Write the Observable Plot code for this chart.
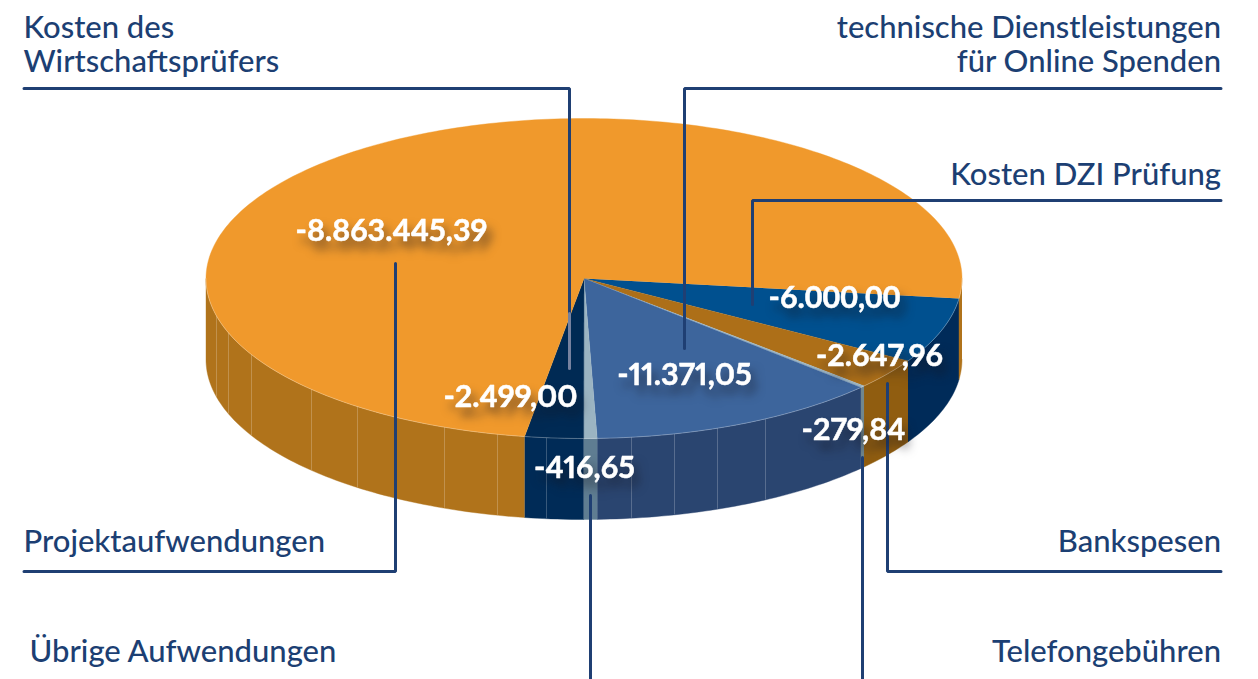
<!DOCTYPE html>
<html lang="de">
<head>
<meta charset="utf-8">
<script src="https://cdn.jsdelivr.net/npm/d3@7"></script>
<script src="https://cdn.jsdelivr.net/npm/@observablehq/plot@0.6"></script>
<style>
html,body{margin:0;padding:0;background:#fff;}
#chart svg{display:block;}
g[fill="#fff"][font-weight="700"] text{filter:drop-shadow(5px 9px 5px rgba(20,20,30,.5));font-variant-numeric:proportional-nums;}
</style>
</head>
<body>
<div id="chart"></div>
<script>
// Slices, clockwise from the first visible edge on the right
const categories = ["Kosten DZI Prüfung","Bankspesen","Telefongebühren","technische Dienstleistungen\nfür Online Spenden","Übrige Aufwendungen","Kosten des\nWirtschaftsprüfers","Projektaufwendungen"];
const amounts = [-6000.00,-2647.96,-279.84,-11371.05,-416.65,-2499.00,-8863445.39];
// drawn sweep of every slice in the picture (the picture is not proportional)
const sweepDeg = [23.8,11.2,0.7,45.1,2.05,9.0,268.15];
const topColors = ["#00508f","#ad6f18","#9bb4c2","#3d659c","#9bb4c2","#002a54","#f0992c"];
const sideColors = ["#002b59","#905d10","#71878f","#2a4570","#5f7d92","#002b57","#b0731b"];
const startDeg = 7.2;

// Layout of the 3-D disc and annotations
const W = 1258, H = 679;
const cx = 583.5, cy = 278, rx = 378, ry = 160, depth = 81;
const ridgeX = [216,228,251,311,357,444,497,546,631,674,717,765];
const labelPos = [
  {x:1220.5,y:174,a:"end"},{x:1220.5,y:541,a:"end"},{x:1220.5,y:651,a:"end"},
  {x:1220.5,y:44,a:"end"},{x:29,y:651,a:"start"},{x:23,y:44,a:"start"},{x:23,y:541,a:"start"}
];
const valuePos = [[391,231],[834,298],[879,356],[853,430],[684,375],[584,468],[510,397]];
const valueOrder = [6,0,1,2,3,4,5];
const leaders = [
  [[1220.5,200],[752,200],[752,304]],
  [[1220.5,571],[887,571],[887,383]],
  [[862,679],[862,457]],
  [[1220.5,88],[684,88],[684,348]],
  [[590,679],[590,495]],
  [[23.5,88],[569,88],[569,313]],
  [[23.5,571],[395,571],[395,263]]
];
const leaderFaded = [[[569,313],[569,368]]];

const fmt = new Intl.NumberFormat("de-DE",{minimumFractionDigits:2,maximumFractionDigits:2});
const rim = (deg,dy=0) => {const t=deg*Math.PI/180; return {x:cx+rx*Math.cos(t),y:cy+ry*Math.sin(t)+dy};};
const arc = (a,b,dy=0) => {const n=Math.max(2,Math.ceil(Math.abs(b-a)));return d3.range(n+1).map(i=>rim(a+(b-a)*i/n,dy));};
const rimYAtX = x => cy+ry*Math.sqrt(1-((x-cx)/rx)**2);

let acc = startDeg;
const slices = amounts.map((v,i)=>{const a=acc,b=acc+sweepDeg[i];acc=b;return {a,b,top:topColors[i],side:sideColors[i]};});

const xy = {x:"x",y:"y"};
const marks = [];
// visible side walls
const sideSpan = (a,b,c) => marks.push(Plot.line([...arc(a,b),...arc(b,a,depth)],{...xy,fill:c,stroke:c,strokeWidth:.4}));
slices.forEach(s=>{
  const a=Math.max(0,s.a), b=Math.min(180,s.b);
  if(a<b) sideSpan(a,b,s.side);
});
sideSpan(0,startDeg,sideColors[6]);
marks.push(Plot.ruleX(ridgeX,{x:d=>d,y1:d=>rimYAtX(d),y2:d=>rimYAtX(d)+depth,stroke:"#fff",strokeOpacity:.22,strokeWidth:1}));
// top faces
slices.forEach(s=>{
  marks.push(Plot.line([{x:cx,y:cy},...arc(s.a,s.b)],{...xy,fill:s.top,stroke:s.top,strokeWidth:.4}));
});
// pale rim highlight
marks.push(Plot.line(arc(0,180),{...xy,stroke:"#fff",strokeOpacity:.35,strokeWidth:.8}));
// leaders
leaders.forEach(l=>marks.push(Plot.line(l,{x:d=>d[0],y:d=>d[1],stroke:"#1f3f73",strokeWidth:3,strokeLinejoin:"miter"})));
leaderFaded.forEach(l=>marks.push(Plot.line(l,{x:d=>d[0],y:d=>d[1],stroke:"#77829f",strokeWidth:3})));
// category labels
const labelRows = categories.map((c,i)=>({c,...labelPos[i]}));
["start","end"].forEach(a=>marks.push(Plot.text(labelRows.filter(d=>d.a===a),{
  x:"x",y:"y",text:"c",textAnchor:a,lineAnchor:"middle",lineHeight:1.097,fontSize:31,fontFamily:"Lato",fontWeight:500,fill:"#1c3f73"
})));
// value labels
const valueRows = valueOrder.map((k,i)=>({t:fmt.format(amounts[k]),x:valuePos[i][0],y:valuePos[i][1]}));
marks.push(Plot.text(valueRows,{x:"x",y:"y",text:"t",fontSize:30.5,fontFamily:"Lato",fontWeight:700,fill:"#fff",stroke:"#fff",strokeWidth:.5,textAnchor:"middle",lineAnchor:"middle"}));

const chart = Plot.plot({
  width:W,height:H,margin:0,
  x:{domain:[0,W],range:[0,W],axis:null},
  y:{domain:[0,H],range:[0,H],axis:null},
  style:{background:"#fff",overflow:"visible"},
  marks
});
// labels made mostly of zeros fit the reference better with tabular figures
chart.querySelectorAll('g[fill="#fff"] text').forEach(t=>{
  if(t.textContent.includes("000")) t.style.fontVariantNumeric="tabular-nums";
});
document.getElementById("chart").append(chart);
</script>
</body>
</html>
